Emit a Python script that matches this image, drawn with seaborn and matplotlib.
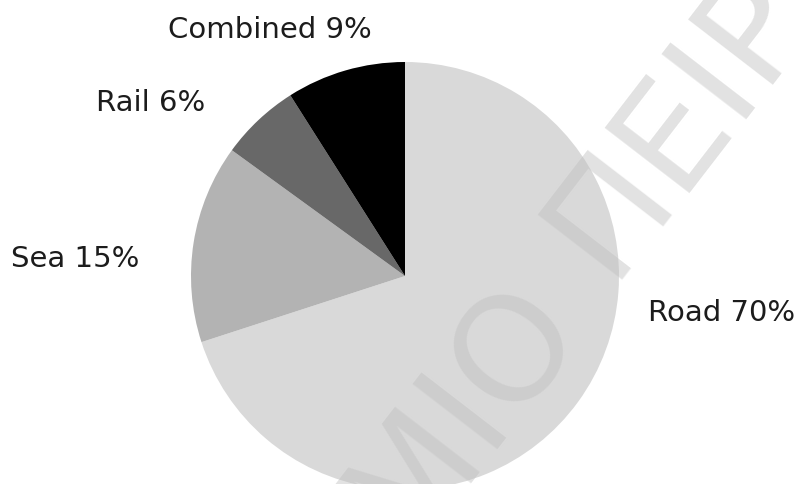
import matplotlib
matplotlib.use("Agg")
import matplotlib.pyplot as plt
import seaborn as sns

# Modal split of freight transport (share, %)
modes = ["Road", "Sea", "Rail", "Combined"]
shares = [70, 15, 6, 9]
shade_hex = ["#d9d9d9", "#b3b3b3", "#686868", "#000000"]

# Label anchors in pie-radius units (x centre, text baseline)
label_x = [1.48, -1.54, -1.19, -0.63]
label_y = [-0.21, 0.04, 0.77, 1.11]

watermark_left = "ΠΑΝΕΠΙΣΤΗΜΙΟ"
watermark_right = "ΠΕΙΡΑΙΩΣ"

sns.set_theme(style="white")
plt.rcParams["font.family"] = ["DejaVu Sans"]

W, H = 802, 484
fig = plt.figure(figsize=(W / 100, H / 100), dpi=100)
ax = fig.add_axes([0, 0, 1, 1])

palette = sns.color_palette(shade_hex)
ax.pie(
    shares,
    colors=palette,
    startangle=90,
    counterclock=False,
    radius=1.0,
    wedgeprops=dict(linewidth=0, antialiased=True),
)

# Map pie units to pixels: radius 1 -> 214 px, centre at (405, 276) from top-left
R_PX, CX, CY = 214.0, 405.0, 276.0
ax.set_xlim(-CX / R_PX, (W - CX) / R_PX)
ax.set_ylim(-(H - CY) / R_PX, CY / R_PX)
ax.set_aspect("auto")
ax.axis("off")

for name, val, lx, ly in zip(modes, shares, label_x, label_y):
    ax.text(lx, ly, f"{name} {val}%", ha="center", va="baseline",
            fontsize=21, color="#1c1c1c")

# Diagonal watermark overlay
wm_style = dict(fontsize=106, color=(0.75, 0.75, 0.75), alpha=0.45,
                rotation=52.4, rotation_mode="anchor", va="baseline",
                transform=ax.transAxes, zorder=5)
ax.text(581 / W, 1 - 322 / H, watermark_left, ha="right", **wm_style)
ax.text(608 / W, 1 - 280 / H, watermark_right, ha="left", **wm_style)

fig.savefig("out.png", dpi=100, facecolor="white")
